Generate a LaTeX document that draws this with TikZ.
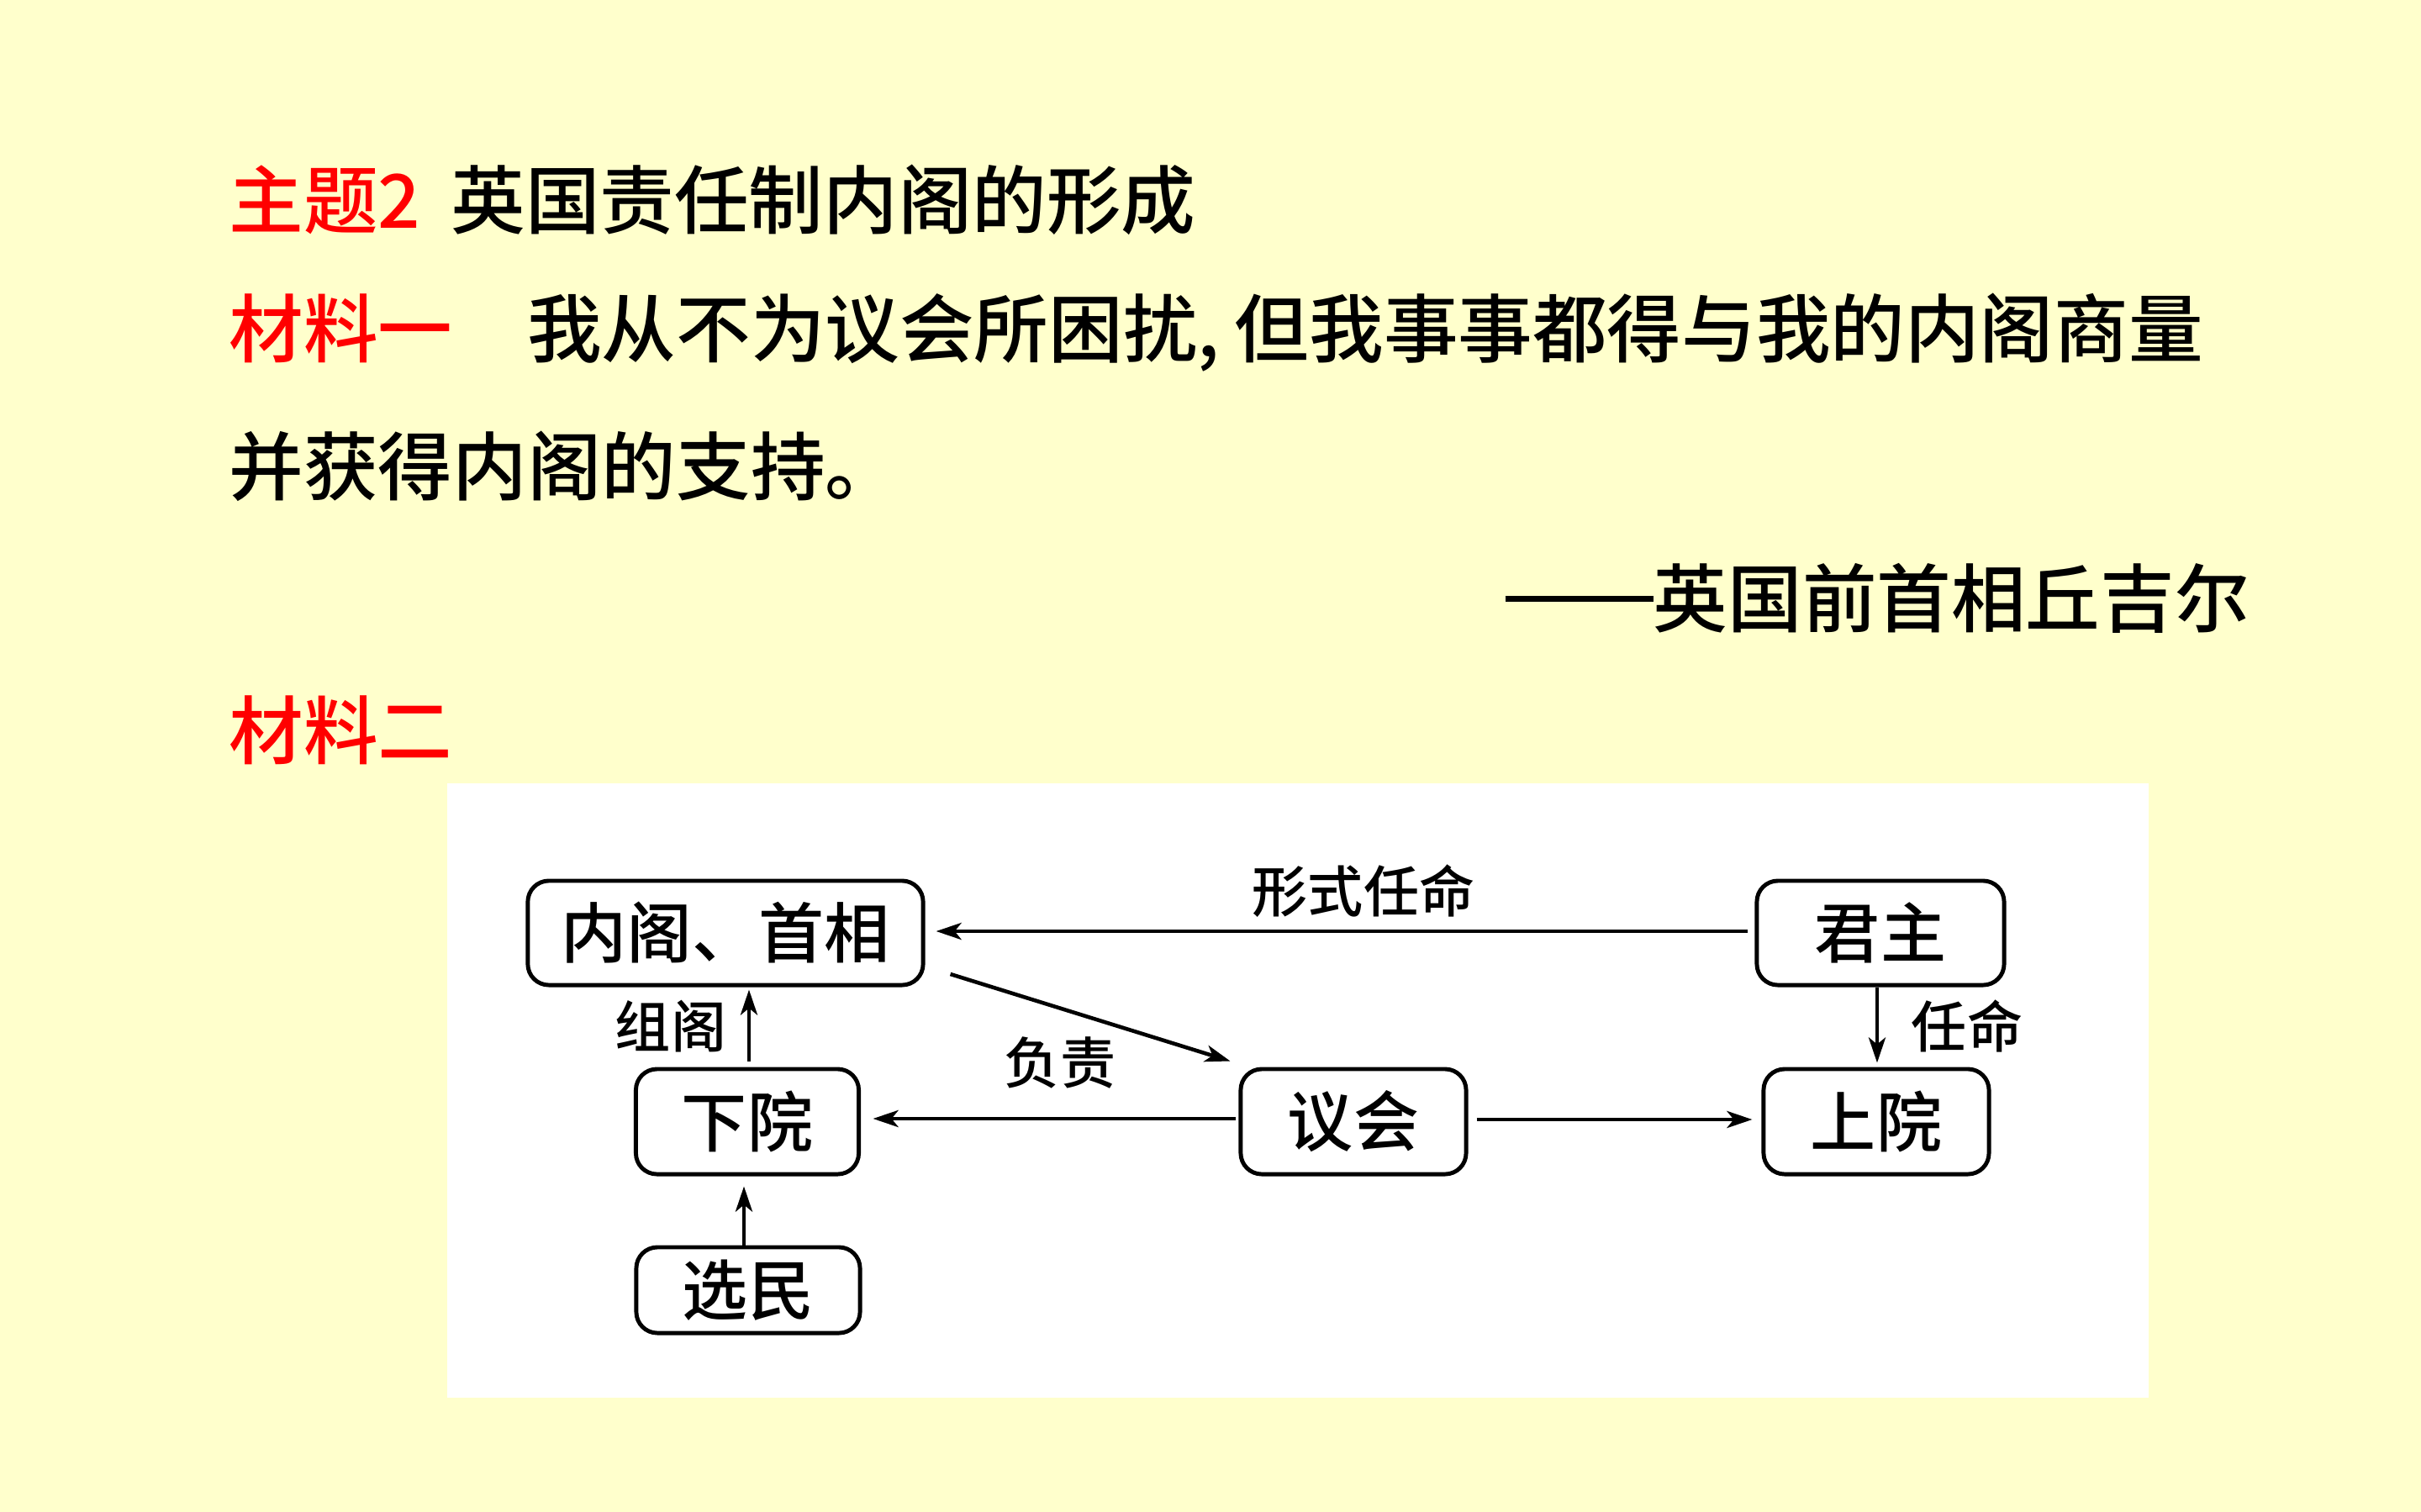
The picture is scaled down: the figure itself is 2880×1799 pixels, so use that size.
\documentclass[tikz,border=0pt]{standalone}
\usepackage{fontspec}
\setmainfont{Noto Sans CJK SC}[UprightFont=* Medium]
\usetikzlibrary{arrows.meta,calc}
\definecolor{bg}{HTML}{FFFFCC}
\definecolor{redtxt}{HTML}{FF0000}
\newcommand\slidefont{\fontsize{25.2pt}{30pt}\selectfont}
\newcommand\boxfont{\fontsize{22.2pt}{26pt}\selectfont}
\newcommand\lblfont{\fontsize{18.8pt}{22pt}\selectfont}
\tikzset{
  txt/.style={inner sep=0pt, anchor=west, font=\slidefont},
  boxnode/.style={draw, line width=1.4pt, rounded corners=0.25cm, inner sep=0pt, font=\boxfont, fill=white},
  lbl/.style={inner sep=0pt, font=\lblfont},
  arr/.style={line width=1.3pt, -{Stealth[length=0.3cm,width=0.2cm,inset=0.08cm]}}
}
\begin{document}
\begin{tikzpicture}[x=0.01cm,y=-0.01cm]
\fill[bg] (0,0) rectangle (2880,1799);
\useasboundingbox (0,0) rectangle (2880,1799);
% texts
\node[txt] (title) at (272,238) {\textcolor{redtxt}{主题2}\ \hspace{0.16cm}英国责任制内阁的形成};
\node[txt] (m1) at (272,396) {\textcolor{redtxt}{材料一}　我从不为议会所困扰,\hspace{0.2em}但我事事都得与我的内阁商量};
\node[txt] (m1b) at (272,555) {并获得内阁的支持。};
\node[txt] (sig) at (1790,712) {\rule[0.33em]{1.76cm}{0.07cm}\makebox[7.05cm][s]{英\hfill 国\hfill 前\hfill 首\hfill 相\hfill 丘\hfill 吉\hfill 尔}};
\node[txt,text=redtxt] (m2) at (272,869) {材料二};
% panel
\node[fill=white, inner sep=0pt, minimum width=20.22cm, minimum height=7.31cm] (panel) at (1544,1297.5) {};
% boxes
\node[boxnode, minimum width=4.7cm, minimum height=1.24cm] (neige) at (863,1110) {内阁、首相};
\node[boxnode, minimum width=2.94cm, minimum height=1.24cm] (junzhu) at (2237,1110) {君主};
\node[boxnode, minimum width=2.65cm, minimum height=1.25cm] (xiayuan) at (889,1334.5) {下院};
\node[boxnode, minimum width=2.68cm, minimum height=1.25cm] (yihui) at (1610,1334.5) {议会};
\node[boxnode, minimum width=2.68cm, minimum height=1.25cm] (shangyuan) at (2232,1334.5) {上院};
\node[boxnode, minimum width=2.66cm, minimum height=1.02cm] (xuanmin) at (890,1535) {选民};
% labels
\node[lbl] (l1) at (1622,1060) {形式任命};
\node[lbl] (l2) at (1261,1264) {负责};
\node[lbl] (l3) at (798,1221) {组阁};
\node[lbl] (l4) at (2340,1221) {任命};
% connectors
\draw[arr] ($(junzhu.west)+(-8,-2)$) -- ($(neige.east)+(13,-2)$);
\draw[arr] ($(neige.south east)+(30,-15.5)$) -- ($(yihui.north west)+(-10,-7)$);
\draw[arr] ($(xiayuan.north)+(2,-7)$) -- ($(neige.south)+(28,3)$);
\draw[arr] ($(yihui.west)+(-3,-3.5)$) -- ($(xiayuan.east)+(14.5,-3.5)$);
\draw[arr] ($(xuanmin.north)+(-5,0)$) -- ($(xiayuan.south)+(-4,12)$);
\draw[arr] ($(junzhu.south)+(-4,0)$) -- ($(shangyuan.north)+(1,-5)$);
\draw[arr] ($(yihui.east)+(10,-2.5)$) -- ($(shangyuan.west)+(-11,-2.5)$);
\end{tikzpicture}
\end{document}
